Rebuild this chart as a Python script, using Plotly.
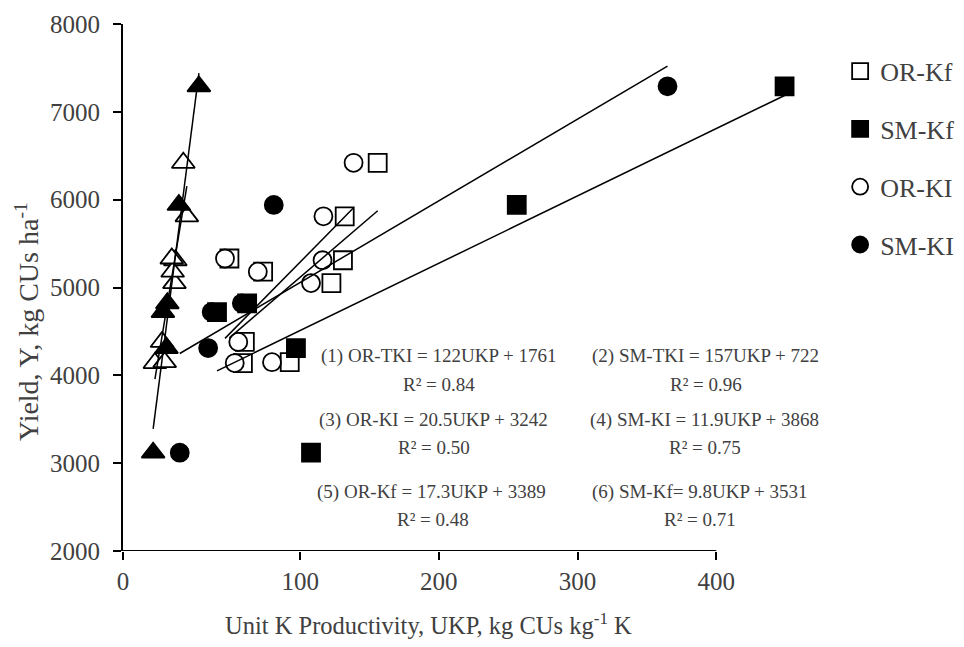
import plotly.graph_objects as go

# ---------------- data ----------------
# OR treatments (9 observations each)
or_yield = [6420, 5810, 5310, 5050, 5180, 5330, 4380, 4140, 4150]
or_kf_ukp = [143.6, 125, 124, 117.5, 79, 60, 68.7, 67.6, 94]
or_ki_ukp = [130, 113, 112.5, 106, 76, 57.5, 65, 63, 84]
or_tki_ukp = [34, 36, 29.5, 29, 28, 27.5, 22, 18, 23.5]

# SM treatments (6 observations each)
sm_yield = [3120, 4310, 4720, 4820, 5940, 7290]
sm_kf_ukp = [106, 97.5, 53, 70, 222, 373]
sm_ki_ukp = [32, 48, 50, 67, 85, 307]
sm_tki_ukp = [17, 24.5, 22.5, 25, 31.5, 42.8]

# regression equations printed on the chart
eq_names = ["OR-TKI", "SM-TKI", "OR-KI", "SM-KI", "OR-Kf", "SM-Kf"]
eq_slopes = [122, 157, 20.5, 11.9, 17.3, 9.8]
eq_intercepts = [1761, 722, 3242, 3868, 3389, 3531]
eq_texts = ["(1) OR-TKI = 122UKP + 1761", "(2) SM-TKI = 157UKP + 722",
            "(3) OR-KI = 20.5UKP + 3242", "(4) SM-KI = 11.9UKP + 3868",
            "(5) OR-Kf = 17.3UKP + 3389", "(6) SM-Kf= 9.8UKP + 3531"]
r2_texts = ["R² = 0.84", "R² = 0.96", "R² = 0.50", "R² = 0.75", "R² = 0.48", "R² = 0.71"]

x_tick_labels = ["0", "100", "200", "300", "400"]
x_tick_vals = [0, 100, 178, 256.3, 334.5]
y_tick_vals = [2000, 3000, 4000, 5000, 6000, 7000, 8000]

FONT = "Liberation Serif, Times New Roman, serif"
TXT = "#404040"

fig = go.Figure()

def scatter(x, y, name, symbol, filled, size, legend=True):
    fig.add_trace(go.Scatter(
        x=x, y=y, mode="markers", name=name, showlegend=legend,
        legendgroup=name,
        marker=dict(symbol=symbol, size=size,
                    color="black" if filled else "white",
                    line=dict(color="black", width=1.8)),
        cliponaxis=False,
    ))

scatter(or_kf_ukp, or_yield, "OR-Kf", "square", False, 18)
scatter(sm_kf_ukp, sm_yield, "SM-Kf", "square", True, 18)
scatter(or_ki_ukp, or_yield, "OR-KI", "circle", False, 18)
scatter(sm_ki_ukp, sm_yield, "SM-KI", "circle", True, 18)
scatter(or_tki_ukp, or_yield, "OR-TKI", "triangle-up", False, 20, legend=False)
scatter(sm_tki_ukp, sm_yield, "SM-TKI", "triangle-up", True, 20, legend=False)

# trend lines from the printed equations, spanning each series' UKP range
series_x = {"OR-TKI": or_tki_ukp, "SM-TKI": sm_tki_ukp, "OR-KI": or_ki_ukp,
            "SM-KI": sm_ki_ukp, "OR-Kf": or_kf_ukp, "SM-Kf": sm_kf_ukp}
for name, a, b in zip(eq_names, eq_slopes, eq_intercepts):
    xs = [min(series_x[name]), max(series_x[name])]
    fig.add_trace(go.Scatter(x=xs, y=[a * v + b for v in xs], mode="lines",
                             line=dict(color="black", width=1.5),
                             showlegend=False, hoverinfo="skip"))

# equation annotations (positions in data coordinates)
eq_pos = [(178.4, 4225), (328.3, 4225), (175.3, 3495), (327.6, 3495), (174.0, 2675), (325.0, 2675)]
r2_pos = [(178.4, 3893), (328.8, 3893), (175.6, 3175), (328.0, 3175), (174.5, 2355), (325.4, 2355)]
for t, (x, y) in zip(eq_texts, eq_pos):
    fig.add_annotation(x=x, y=y, xref="x", yref="y", text=t, showarrow=False,
                       font=dict(family=FONT, size=19, color=TXT), xanchor="center", yanchor="middle")
for t, (x, y) in zip(r2_texts, r2_pos):
    fig.add_annotation(x=x, y=y, xref="x", yref="y", text=t, showarrow=False,
                       font=dict(family=FONT, size=19, color=TXT), xanchor="center", yanchor="middle")

# axis titles
fig.add_annotation(x=0.453, y=-0.1385, xref="paper", yref="paper",
                   text="Unit K Productivity, UKP, kg CUs kg<sup>-1</sup> K", showarrow=False,
                   font=dict(family=FONT, size=24.5, color=TXT), xanchor="center", yanchor="middle")
fig.add_annotation(x=-0.142, y=0.435, xref="paper", yref="paper", textangle=-90,
                   text="Yield, Y, kg CUs ha<sup>-1</sup>", showarrow=False,
                   font=dict(family=FONT, size=28, color=TXT), xanchor="center", yanchor="middle")

# x-axis baseline (ends at the last labelled tick, as in the reference)
fig.add_shape(type="line", xref="x", yref="y", x0=0, x1=x_tick_vals[-1], y0=2000, y1=2000,
              line=dict(color="black", width=2))

# the page body adds an 8 px offset, so the figure is sized to fit inside the window
fig.update_layout(
    width=956, height=639,
    margin=dict(l=115, r=166.5, t=16, b=96, autoexpand=False),
    paper_bgcolor="white", plot_bgcolor="white",
    font=dict(family=FONT, size=24, color=TXT),
    showlegend=True,
    legend=dict(x=1.064, y=0.955, xanchor="left", yanchor="top",
                font=dict(family=FONT, size=26, color=TXT),
                tracegroupgap=21, bgcolor="rgba(0,0,0,0)"),
    xaxis=dict(range=[0, 380], showline=False, showgrid=False, zeroline=False,
               automargin=False,
               tickmode="array", tickvals=x_tick_vals, ticktext=x_tick_labels,
               ticks="outside", ticklen=8, tickwidth=2, tickcolor="black",
               tickfont=dict(family=FONT, size=25, color=TXT)),
    yaxis=dict(range=[2000, 8000], showline=True, linewidth=2, linecolor="black",
               showgrid=False, zeroline=False, automargin=False,
               tickmode="array", tickvals=y_tick_vals,
               ticks="outside", ticklen=8, tickwidth=2, tickcolor="black",
               ticklabelstandoff=8,
               tickfont=dict(family=FONT, size=25, color=TXT)),
)

fig.write_html("out.html")
